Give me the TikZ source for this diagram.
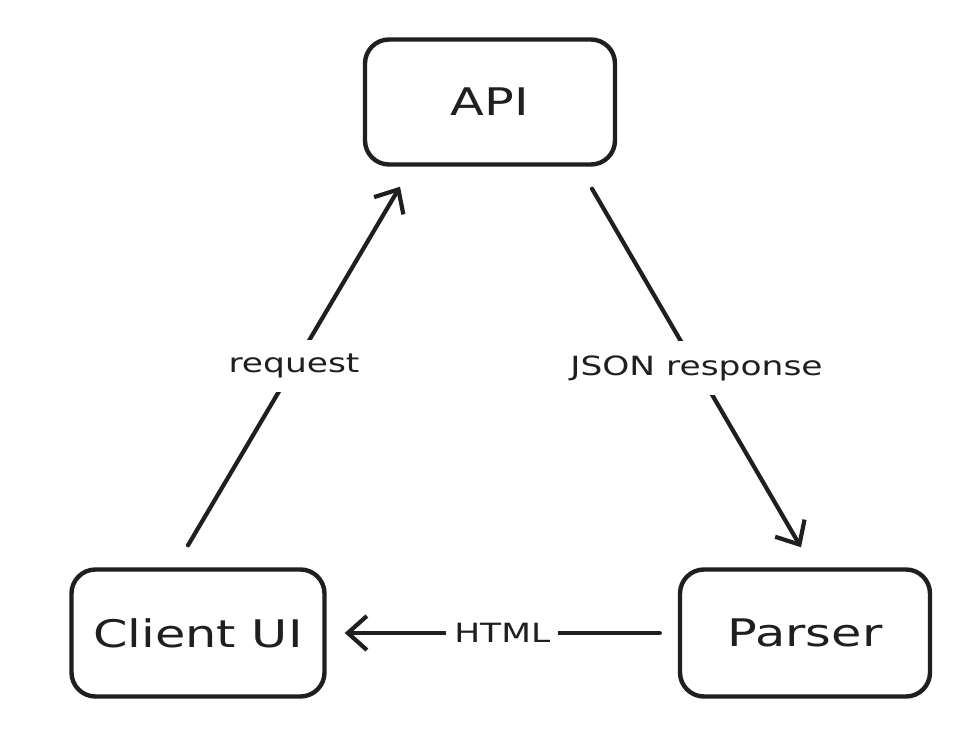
\documentclass[tikz,border=0pt]{standalone}
\usepackage{fontspec}
\setmainfont[FakeStretch=1.3]{DejaVu Sans}
\usetikzlibrary{arrows.meta,calc}
\tikzset{
  box/.style={draw=black!88, line width=4.4pt, rounded corners=24pt, minimum width=250pt, minimum height=125pt, fill=white, font=\fontsize{38}{44}\selectfont, text=black!88},
  conn/.style={draw=black!88, line width=4.2pt, line cap=round},
  tip/.style={-{Straight Barb[length=19pt,width=34pt,line width=4.2pt]}},
  lbl/.style={fill=white, inner xsep=11pt, inner ysep=14pt, font=\fontsize{26.5}{31}\selectfont, text=black!88}
}
\begin{document}
\begin{tikzpicture}[x=1pt,y=-1pt]
\useasboundingbox[fill=white] (0,0) rectangle (980,736);
\node[box] (api) at (490,102) {API};
\node[box, minimum width=253pt, minimum height=127pt] (client) at (198,633) {Client UI};
\node[box, minimum height=127pt] (parser) at (805,633) {Parser};
\coordinate (r1) at ($(client.north)+(-10,-22)$);
\coordinate (r2) at ($(api.south)+(-90,20)$);
\coordinate (j1) at ($(api.south)+(102,22)$);
\coordinate (j2) at ($(parser.north)+(-4,-20)$);
\coordinate (h1) at ($(parser.west)+(-18,0)$);
\coordinate (h2) at ($(client.east)+(18,0)$);
\draw[conn,tip] (r1) -- node[lbl] (lr) {request} (r2);
\draw[conn,tip] (j1) -- node[lbl] (lj) {JSON response} (j2);
\draw[conn,tip] (h1) -- node[lbl, inner xsep=8pt] (lh) {HTML} (h2);
\end{tikzpicture}
\end{document}
